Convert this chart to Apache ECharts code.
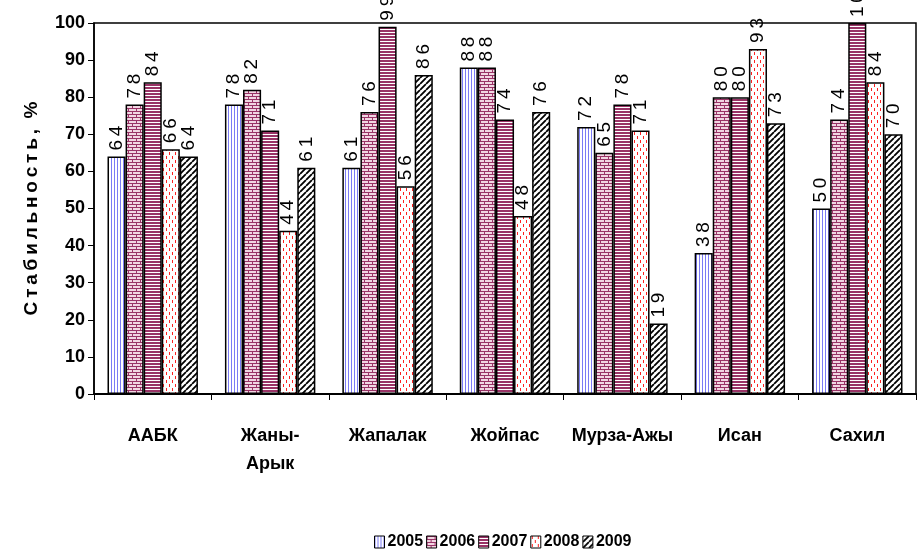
<!DOCTYPE html>
<html>
<head>
<meta charset="utf-8">
<script src="https://cdn.jsdelivr.net/npm/echarts@6/dist/echarts.min.js"></script>
<style>
  html, body { margin: 0; padding: 0; background: #fff; }
  #chart { width: 921px; height: 557px; }
</style>
</head>
<body>
<div id="chart"></div>
<script>
// данные
const categories = ['ААБК', 'Жаны-\nАрык', 'Жапалак', 'Жойпас', 'Мурза-Ажы', 'Исан', 'Сахил'];
const years = ['2005', '2006', '2007', '2008', '2009'];
const v2005 = [64, 78, 61, 88, 72, 38, 50];
const v2006 = [78, 82, 76, 88, 65, 80, 74];
const v2007 = [84, 71, 99, 74, 78, 80, 100];
const v2008 = [66, 44, 56, 48, 71, 93, 84];
const v2009 = [64, 61, 86, 76, 19, 73, 70];
const yTicks = [0, 10, 20, 30, 40, 50, 60, 70, 80, 90, 100];

const font = '"Liberation Sans", Arial, sans-serif';

// узоры заливки
function makePattern(w, h, draw) {
  const c = document.createElement('canvas');
  c.width = w; c.height = h;
  const ctx = c.getContext('2d');
  ctx.fillStyle = '#fff';
  ctx.fillRect(0, 0, w, h);
  draw(ctx);
  return { image: c, repeat: 'repeat' };
}

const patVertBlue = makePattern(3, 4, ctx => {
  ctx.fillStyle = '#7b7bf5';
  ctx.fillRect(0, 0, 1, 4);
});
const patBrick = makePattern(8, 6, ctx => {
  ctx.fillStyle = '#f1d6e2';
  ctx.fillRect(0, 0, 8, 6);
  ctx.fillStyle = '#993366';
  ctx.fillRect(0, 0, 8, 1);
  ctx.fillRect(0, 3, 8, 1);
  ctx.fillRect(0, 0, 1, 3);
  ctx.fillRect(4, 3, 1, 3);
});
const patHorizMaroon = makePattern(4, 3, ctx => {
  ctx.fillStyle = '#993366';
  ctx.fillRect(0, 0, 4, 2);
});
const patRedDots = makePattern(6, 8, ctx => {
  ctx.fillStyle = '#ff2020';
  ctx.fillRect(1, 0, 1, 3);
  ctx.fillRect(4, 4, 1, 3);
});
const patDiag = makePattern(6, 6, ctx => {
  ctx.strokeStyle = '#000';
  ctx.lineWidth = 1.8;
  ctx.beginPath();
  for (let k = -6; k <= 12; k += 6) {
    ctx.moveTo(k, 6);
    ctx.lineTo(k + 6, 0);
  }
  ctx.stroke();
});

const patterns = [patVertBlue, patBrick, patHorizMaroon, patRedDots, patDiag];
const values = [v2005, v2006, v2007, v2008, v2009];

// разрядка букв тонким пробелом
const spaced = s => s.split('').join('\u2009');

const chart = echarts.init(document.getElementById('chart'));

const series = years.map((y, i) => ({
  name: y,
  type: 'bar',
  data: values[i],
  barGap: '0%',
  barCategoryGap: '23%',
  itemStyle: {
    color: patterns[i],
    borderColor: '#000',
    borderWidth: 1.5
  },
  label: {
    show: true,
    position: 'top',
    rotate: 90,
    align: 'left',
    verticalAlign: 'middle',
    distance: 6,
    color: '#000',
    fontFamily: font,
    fontSize: 19,
    formatter: p => spaced(String(p.value))
  }
}));

const option = {
  animation: false,
  backgroundColor: '#fff',
  grid: {
    left: 94,
    right: 5,
    top: 23,
    bottom: 163,
    show: true,
    borderColor: '#000',
    borderWidth: 1.5,
    containLabel: false
  },
  legend: {
    data: years,
    bottom: 2,
    left: 369,
    itemWidth: 10,
    itemHeight: 12,
    itemGap: 3,
    icon: 'rect',
    itemStyle: { borderColor: '#000', borderWidth: 1 },
    textStyle: { fontFamily: font, fontWeight: 'bold', fontSize: 16, color: '#000', padding: [0, 0, 0, -2] }
  },
  xAxis: {
    type: 'category',
    data: categories,
    axisLine: { lineStyle: { color: '#000', width: 2 } },
    axisTick: { show: true, length: 6, lineStyle: { color: '#000' } },
    axisLabel: {
      interval: 0,
      margin: 28,
      color: '#000',
      fontFamily: font,
      fontWeight: 'bold',
      fontSize: 18,
      lineHeight: 28
    }
  },
  yAxis: {
    type: 'value',
    min: 0,
    max: 100,
    interval: 10,
    name: spaced('Стабильность,') + '  %',
    nameLocation: 'middle',
    nameGap: 53,
    nameTextStyle: { fontFamily: font, fontWeight: 'bold', fontSize: 19, color: '#000' },
    axisLine: { show: true, lineStyle: { color: '#000', width: 1.5 } },
    axisTick: { show: true, length: 6, lineStyle: { color: '#000' } },
    splitLine: { show: false },
    axisLabel: {
      margin: 9,
      color: '#000',
      fontFamily: font,
      fontWeight: 'bold',
      fontSize: 18,
      formatter: v => (yTicks.includes(v) ? String(v) : '')
    }
  },
  series: series
};

chart.setOption(option);
</script>
</body>
</html>
